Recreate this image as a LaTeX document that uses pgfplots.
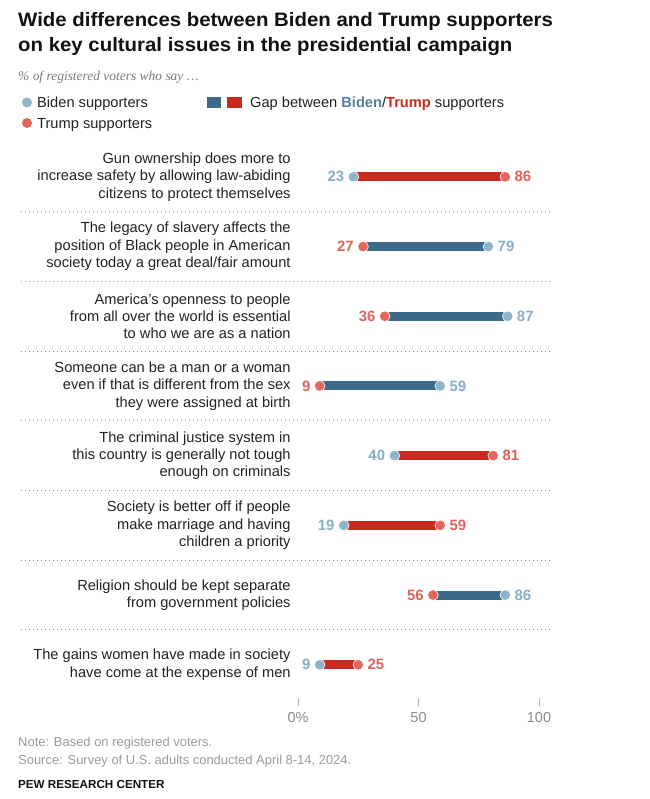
\documentclass[border=0pt]{standalone}
\usepackage{pgfplots}
\pgfplotsset{compat=1.18}
\usepackage{fontspec}
\setmainfont{Liberation Sans}
\newfontfamily\titlefamily{Liberation Sans}[FakeStretch=1.05]
\newfontfamily\subfont{Liberation Serif}
\definecolor{bidenDot}{HTML}{8DB4C8}
\definecolor{trumpDot}{HTML}{E4665C}
\definecolor{bidenBar}{HTML}{3E6A89}
\definecolor{trumpBar}{HTML}{C92A1F}
\definecolor{bidenNum}{HTML}{86AEC4}
\definecolor{trumpNum}{HTML}{E0625A}
\definecolor{titleC}{HTML}{111111}
\definecolor{subC}{HTML}{7A7A7A}
\definecolor{bodyC}{HTML}{222222}
\definecolor{noteC}{HTML}{9A9A9A}
\definecolor{tickC}{HTML}{B0B0B0}
\definecolor{tickLabC}{HTML}{8A8A8A}
\definecolor{sepC}{HTML}{8A8A8A}
\newcommand\bodyfont{\fontsize{14.7}{17.5}\selectfont}
\newcommand\numfont{\fontsize{15}{17}\selectfont\bfseries}
\begin{document}
\begin{tikzpicture}[x=1bp,y=1bp]
\path[use as bounding box] (0,0) rectangle (650,-799);
% title
\node[anchor=base west, inner sep=0, font=\titlefamily\fontsize{19.5}{23}\selectfont\bfseries, text=titleC] at (18,-26.5) {Wide differences between Biden and Trump supporters};
\node[anchor=base west, inner sep=0, font=\titlefamily\fontsize{19.5}{23}\selectfont\bfseries, text=titleC] at (18,-52) {on key cultural issues in the presidential campaign};
\node[anchor=base west, inner sep=0, font=\subfont\itshape\fontsize{13.5}{16}\selectfont, text=subC] at (18,-80) {\% of registered voters who say …};
% legend
\fill[bidenDot] (27,-102.5) circle (5);
\node[anchor=base west, inner sep=0, font=\bodyfont, text=bodyC] at (37,-107.5) {Biden supporters};
\fill[trumpDot] (27,-123) circle (5);
\node[anchor=base west, inner sep=0, font=\bodyfont, text=bodyC] at (37,-128) {Trump supporters};
\fill[bidenBar] (207,-97) rectangle (221,-108);
\fill[trumpBar] (227,-97) rectangle (242,-108);
\node[anchor=base west, inner sep=0, font=\bodyfont, text=bodyC] at (250,-107.5) {Gap between \textbf{\color{bidenBar!70!bidenDot}Biden}/\textbf{\color{trumpBar}Trump} supporters};
\begin{axis}[at={(20.85bp,-142bp)}, anchor=north west, scale only axis,
  width=530.2bp, height=563.9bp,
  xmin=-115, xmax=105, ymin=-8.59, ymax=-0.5, clip=false,
  axis line style={draw=none},
  xtick={0,50,100}, xticklabels={0\%,50,100}, xtick pos=bottom,
  tick align=inside, major tick length=8bp,
  xtick style={draw=tickC, line width=0.8bp},
  xticklabel style={font=\fontsize{14.5}{17}\selectfont, text=tickLabC, yshift=-2.5bp},
  ytick={-7.5,-6.5,-5.5,-4.5,-3.5,-2.5,-1.5}, yticklabels={}, ytick style={draw=none},
  ymajorgrids, grid style={draw=sepC, dash pattern=on 1.2bp off 2.8bp, line width=0.9bp},
  /pgf/number format/assume math mode=true]
% row labels
\node[anchor=east, align=right, inner sep=0, font=\bodyfont, text=bodyC] at (axis cs:-3,-1) {Gun ownership does more to\\increase safety by allowing law-abiding\\citizens to protect themselves};
\node[anchor=east, align=right, inner sep=0, font=\bodyfont, text=bodyC] at (axis cs:-3,-2) {The legacy of slavery affects the\\position of Black people in American\\society today a great deal/fair amount};
\node[anchor=east, align=right, inner sep=0, font=\bodyfont, text=bodyC] at (axis cs:-3,-3) {America’s openness to people\\from all over the world is essential\\to who we are as a nation};
\node[anchor=east, align=right, inner sep=0, font=\bodyfont, text=bodyC] at (axis cs:-3,-4) {Someone can be a man or a woman\\even if that is different from the sex\\they were assigned at birth};
\node[anchor=east, align=right, inner sep=0, font=\bodyfont, text=bodyC] at (axis cs:-3,-5) {The criminal justice system in\\this country is generally not tough\\enough on criminals};
\node[anchor=east, align=right, inner sep=0, font=\bodyfont, text=bodyC] at (axis cs:-3,-6) {Society is better off if people\\make marriage and having\\children a priority};
\node[anchor=east, align=right, inner sep=0, font=\bodyfont, text=bodyC] at (axis cs:-3,-7) {Religion should be kept separate\\from government policies};
\node[anchor=east, align=right, inner sep=0, font=\bodyfont, text=bodyC] at (axis cs:-3,-8) {The gains women have made in society\\have come at the expense of men};
% gap bars
\addplot[trumpBar, line width=9bp, no markers] coordinates {(23,-1) (86,-1)};
\addplot[bidenBar, line width=9bp, no markers] coordinates {(27,-2) (79,-2)};
\addplot[bidenBar, line width=9bp, no markers] coordinates {(36,-3) (87,-3)};
\addplot[bidenBar, line width=9bp, no markers] coordinates {(9,-4) (59,-4)};
\addplot[trumpBar, line width=9bp, no markers] coordinates {(40,-5) (81,-5)};
\addplot[trumpBar, line width=9bp, no markers] coordinates {(19,-6) (59,-6)};
\addplot[bidenBar, line width=9bp, no markers] coordinates {(56,-7) (86,-7)};
\addplot[trumpBar, line width=9bp, no markers] coordinates {(9,-8) (25,-8)};
% Biden dots, label on left
\addplot[only marks, mark=*, mark size=5.3bp, color=bidenDot, mark options={draw=white, line width=0.6bp, fill=bidenDot},
  point meta=x, nodes near coords,
  every node near coord/.append style={anchor=east, inner sep=0, xshift=-9bp, font=\numfont, text=bidenNum}]
  coordinates {(23,-1) (40,-5) (19,-6) (9,-8)};
% Biden dots, label on right
\addplot[only marks, mark=*, mark size=5.3bp, color=bidenDot, mark options={draw=white, line width=0.6bp, fill=bidenDot},
  point meta=x, nodes near coords,
  every node near coord/.append style={anchor=west, inner sep=0, xshift=9bp, font=\numfont, text=bidenNum}]
  coordinates {(79,-2) (87,-3) (59,-4) (86,-7)};
% Trump dots, label on left
\addplot[only marks, mark=*, mark size=5.3bp, color=trumpDot, mark options={draw=white, line width=0.6bp, fill=trumpDot},
  point meta=x, nodes near coords,
  every node near coord/.append style={anchor=east, inner sep=0, xshift=-9bp, font=\numfont, text=trumpNum}]
  coordinates {(27,-2) (36,-3) (9,-4) (56,-7)};
% Trump dots, label on right
\addplot[only marks, mark=*, mark size=5.3bp, color=trumpDot, mark options={draw=white, line width=0.6bp, fill=trumpDot},
  point meta=x, nodes near coords,
  every node near coord/.append style={anchor=west, inner sep=0, xshift=9bp, font=\numfont, text=trumpNum}]
  coordinates {(86,-1) (81,-5) (59,-6) (25,-8)};
\end{axis}
% notes
\node[anchor=base west, inner sep=0, font=\fontsize{13}{15}\selectfont, text=noteC] at (18,-746.5) {Note: Based on registered voters.};
\node[anchor=base west, inner sep=0, font=\fontsize{13}{15}\selectfont, text=noteC] at (18,-764) {Source: Survey of U.S. adults conducted April 8-14, 2024.};
\node[anchor=base west, inner sep=0, font=\fontsize{11.7}{14}\selectfont\bfseries, text=titleC] at (18,-788) {PEW RESEARCH CENTER};
\end{tikzpicture}
\end{document}
